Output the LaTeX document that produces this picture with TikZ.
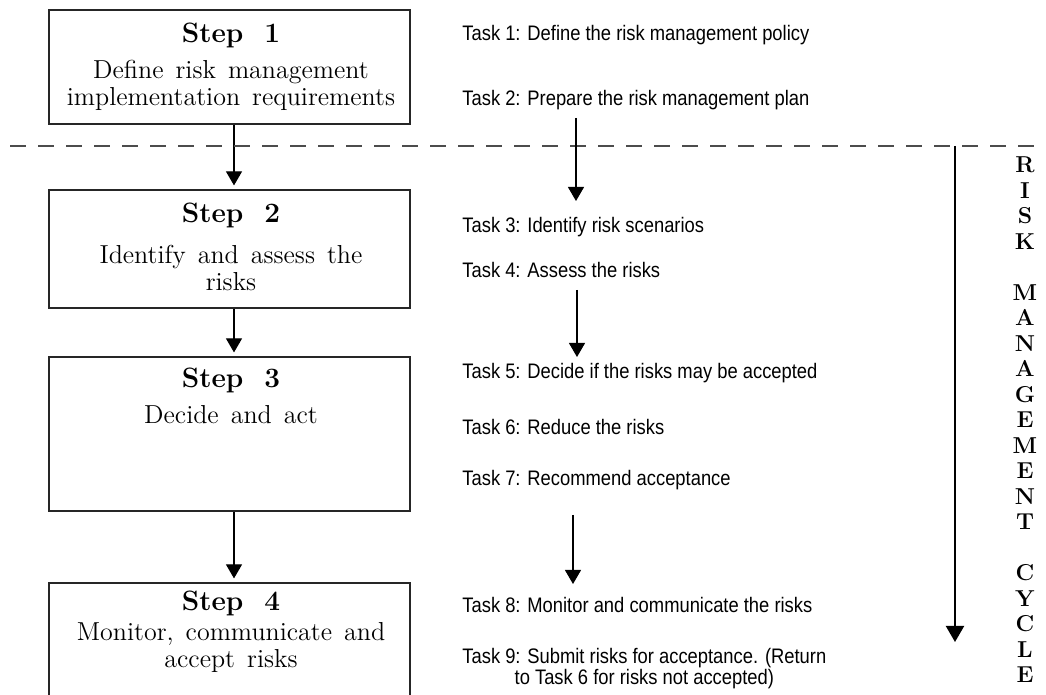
\documentclass[tikz,border=0pt]{standalone}
\usepackage{fontspec}
\newfontfamily\taskfont[FakeStretch=0.875]{Liberation Sans}
\usetikzlibrary{arrows.meta}
\newcommand{\widespaces}{\spaceskip 6pt plus 1pt\relax}
\tikzset{
  stepbox/.style={draw=black!85, line width=0.6pt, inner sep=0pt, fill=none},
  steptitle/.style={inner sep=0pt, font=\fontsize{14}{16}\selectfont\bfseries},
  stepbody/.style={inner sep=0pt, align=center, font={\fontsize{13}{13.5}\selectfont\widespaces}},
  task/.style={inner sep=0pt, anchor=west, font={\taskfont\fontsize{10.5}{10.5}\selectfont}},
  arr/.style={line width=0.55pt, -{Triangle[width=8pt,length=7pt]}, shorten >=2pt},
  tarr/.style={line width=0.55pt, -{Triangle[width=8pt,length=7pt]}},
  bigarr/.style={line width=1pt, -{Triangle[width=9pt,length=8pt]}},
  dashline/.style={line width=0.6pt, draw=black!70, dash pattern=on 8pt off 6pt},
  vert/.style={inner sep=0pt, align=center, font={\fontsize{11.5}{12.75}\selectfont\bfseries}}
}
\begin{document}
\begin{tikzpicture}[x=0.5pt,y=-0.5pt]
\useasboundingbox (0,0) rectangle (1046,695);
\clip (0,0) rectangle (1046,695);

% step boxes
\node[stepbox, minimum width=180.5pt, minimum height=57pt] (s1) at (229.5,67) {};
\node[stepbox, minimum width=180.5pt, minimum height=59pt] (s2) at (229.5,249) {};
\node[stepbox, minimum width=180.5pt, minimum height=77pt] (s3) at (229.5,434) {};
\node[stepbox, minimum width=180.5pt, minimum height=58.5pt] (s4) at (229.5,641.5) {};

% step texts
\node[steptitle] (h1) at (231,35) {Step\ \ 1};
\node[stepbody] (b1) at (231,85) {Define risk management\\implementation requirements};
\node[steptitle] (h2) at (231,215) {Step\ \ 2};
\node[stepbody] (b2) at (231,267.5) {Identify and assess the\\risks};
\node[steptitle] (h3) at (231,380) {Step\ \ 3};
\node[stepbody] (b3) at (231,415) {Decide and act};
\node[steptitle] (h4) at (231,603) {Step\ \ 4};
\node[stepbody] (b4) at (231,647.5) {Monitor, communicate and\\accept risks};

% step arrows
\draw[arr] ([xshift=2.25pt]s1.south) -- ([xshift=2.25pt]s2.north);
\draw[arr] ([xshift=2.25pt]s2.south) -- ([xshift=2.25pt]s3.north);
\draw[arr] ([xshift=2.25pt]s3.south) -- ([xshift=2.25pt]s4.north);

% dashed separator
\coordinate (dl) at (10,146);
\coordinate (dr) at (1046,146);
\draw[dashline] (dl) -- (dr);

% tasks
\node[task] (t1) at (462,35) {Task 1: Define the risk management policy};
\node[task] (t2) at (462,100) {Task 2: Prepare the risk management plan};
\node[task] (t3) at (462,227) {Task 3: Identify risk scenarios};
\node[task] (t4) at (462,270) {Task 4: Assess the risks};
\node[task] (t5) at (462,373) {Task 5: Decide if the risks may be accepted};
\node[task] (t6) at (462,427) {Task 6: Reduce the risks};
\node[task] (t7) at (462,480) {Task 7: Recommend acceptance};
\node[task] (t8) at (462,605) {Task 8: Monitor and communicate the risks};
\node[task, align=center] (t9) at (462,669) {Task 9: Submit risks for acceptance. (Return\\to Task 6 for risks not accepted)};

% task arrows
\coordinate (a1s) at (576,118);
\coordinate (a1e) at (576,201);
\coordinate (a2s) at (577,290);
\coordinate (a2e) at (577,357);
\coordinate (a3s) at (573,515);
\coordinate (a3e) at (573,584);
\draw[tarr] (a1s) -- (a1e);
\draw[tarr] (a2s) -- (a2e);
\draw[tarr] (a3s) -- (a3e);

% cycle arrow
\coordinate (ra) at (955,146);
\coordinate (rb) at (955,642);
\draw[bigarr] (ra) -- (rb);

\node[vert] (cyc) at (1025,420) {R\\I\\S\\K\\[12.75pt]M\\A\\N\\A\\G\\E\\M\\E\\N\\T\\[12.75pt]C\\Y\\C\\L\\E};
\end{tikzpicture}
\end{document}
